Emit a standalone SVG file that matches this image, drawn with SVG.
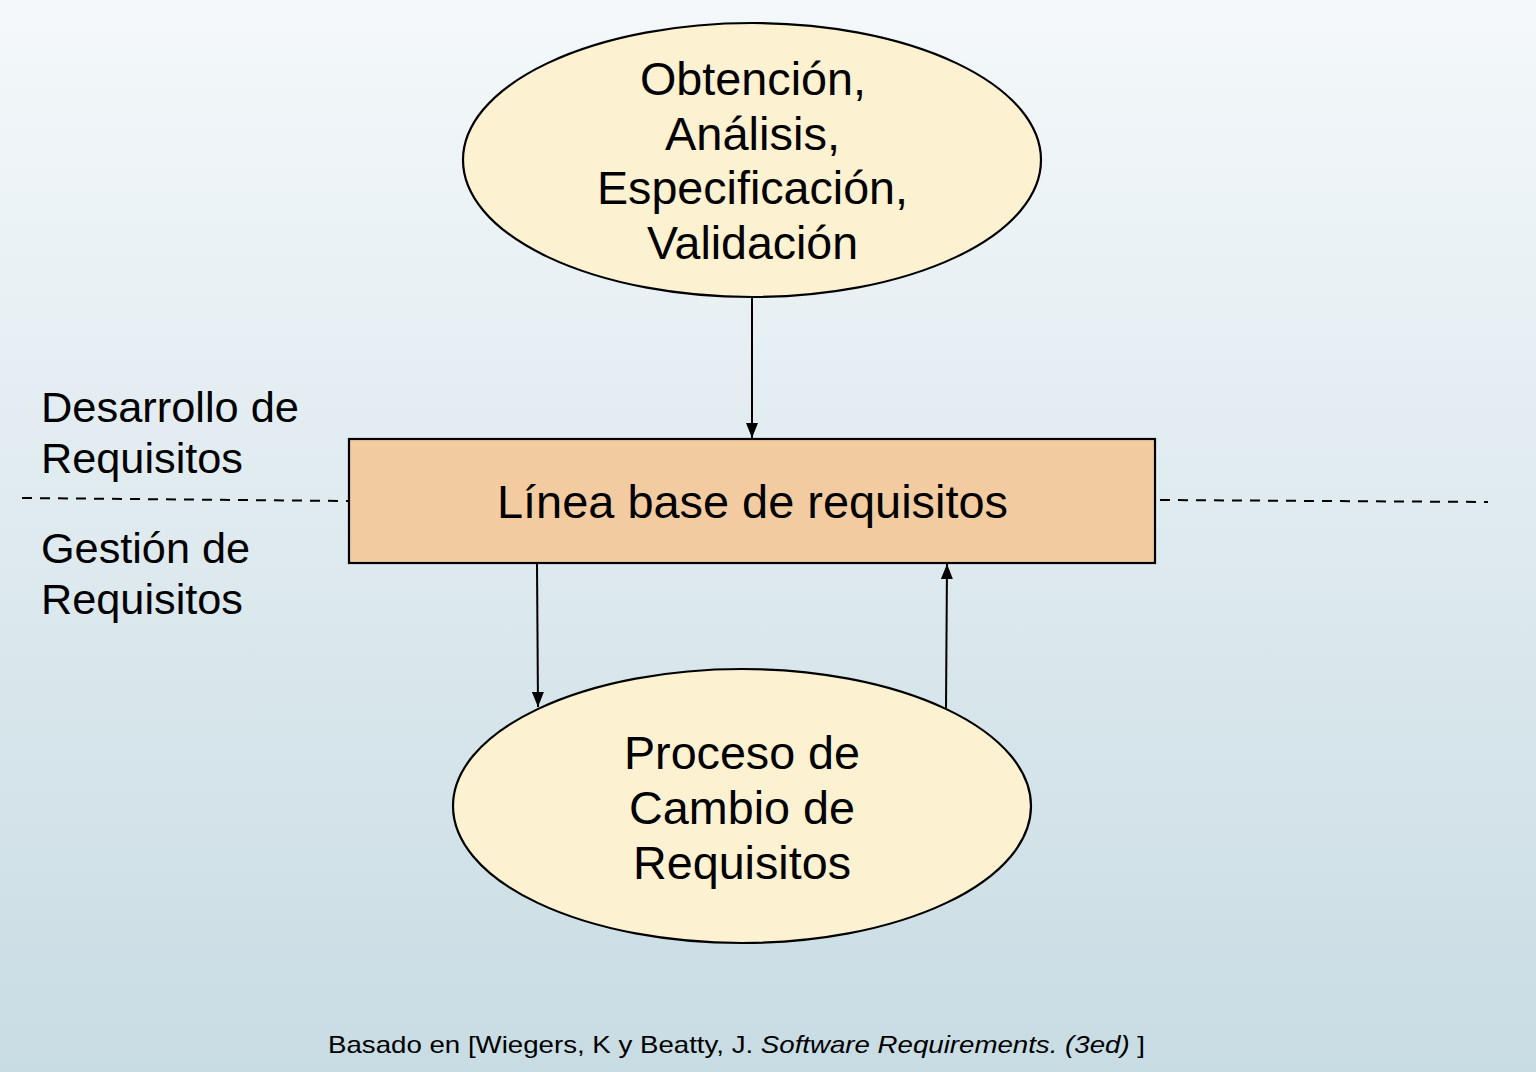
<svg xmlns="http://www.w3.org/2000/svg" width="1536" height="1072" viewBox="0 0 1536 1072">
<defs>
<linearGradient id="bg" x1="0" y1="0" x2="0" y2="1">
<stop offset="0" stop-color="#f4f8fa"/>
<stop offset="1" stop-color="#c8dce3"/>
</linearGradient>
<marker id="ah" viewBox="0 0 15 12" refX="15" refY="6" markerWidth="15" markerHeight="12" markerUnits="userSpaceOnUse" orient="auto">
<path d="M0,0 L15,6 L0,12 z" fill="#000"/>
</marker>
</defs>
<style>
.t{font-family:"Liberation Sans",Arial,sans-serif;fill:#000;}
.big{font-size:46px;}
.side{font-size:42px;}
.ell{fill:#fcf1d0;stroke:#000;stroke-width:2.2;}
.box{fill:#f2cca0;stroke:#000;stroke-width:2.2;}
.con{stroke:#000;stroke-width:2;fill:none;marker-end:url(#ah);}
.dash{stroke:#000;stroke-width:2;stroke-dasharray:10,8;fill:none;}
</style>
<rect x="0" y="0" width="1536" height="1072" fill="url(#bg)"/>
<g id="dividers">
<line class="dash" x1="22" y1="498" x2="349" y2="501"/>
<line class="dash" x1="1160" y1="500" x2="1488" y2="502"/>
</g>
<g id="label-desarrollo">
<text class="t side" x="41" y="422" textLength="258" lengthAdjust="spacingAndGlyphs">Desarrollo de</text>
<text class="t side" x="41" y="473" textLength="202" lengthAdjust="spacingAndGlyphs">Requisitos</text>
</g>
<g id="label-gestion">
<text class="t side" x="41" y="563" textLength="209" lengthAdjust="spacingAndGlyphs">Gestión de</text>
<text class="t side" x="41" y="614" textLength="202" lengthAdjust="spacingAndGlyphs">Requisitos</text>
</g>
<g id="node-obtencion">
<ellipse class="ell" cx="752" cy="160" rx="289" ry="137"/>
<text class="t big" x="640" y="95" textLength="226" lengthAdjust="spacingAndGlyphs">Obtención,</text>
<text class="t big" x="665" y="150" textLength="175" lengthAdjust="spacingAndGlyphs">Análisis,</text>
<text class="t big" x="597" y="204" textLength="311" lengthAdjust="spacingAndGlyphs">Especificación,</text>
<text class="t big" x="647" y="259" textLength="211" lengthAdjust="spacingAndGlyphs">Validación</text>
</g>
<g id="node-linea">
<rect class="box" x="349" y="439" width="806" height="124"/>
<text class="t big" x="497" y="518" textLength="511" lengthAdjust="spacingAndGlyphs">Línea base de requisitos</text>
</g>
<g id="node-proceso">
<ellipse class="ell" cx="742" cy="806" rx="289" ry="137"/>
<text class="t big" x="624" y="769" textLength="236" lengthAdjust="spacingAndGlyphs">Proceso de</text>
<text class="t big" x="629" y="824" textLength="226" lengthAdjust="spacingAndGlyphs">Cambio de</text>
<text class="t big" x="633" y="879" textLength="218" lengthAdjust="spacingAndGlyphs">Requisitos</text>
</g>
<g id="connectors">
<line class="con" x1="752" y1="297" x2="752" y2="438"/>
<line class="con" x1="537" y1="564" x2="538" y2="707"/>
<line class="con" x1="946" y1="708" x2="947" y2="564"/>
</g>
<g id="caption">
<text class="t" font-size="24" x="328" y="1053" textLength="817" lengthAdjust="spacingAndGlyphs">Basado en [Wiegers, K y Beatty, J. <tspan font-style="italic">Software Requirements. (3ed)</tspan> ]</text>
</g>
</svg>
